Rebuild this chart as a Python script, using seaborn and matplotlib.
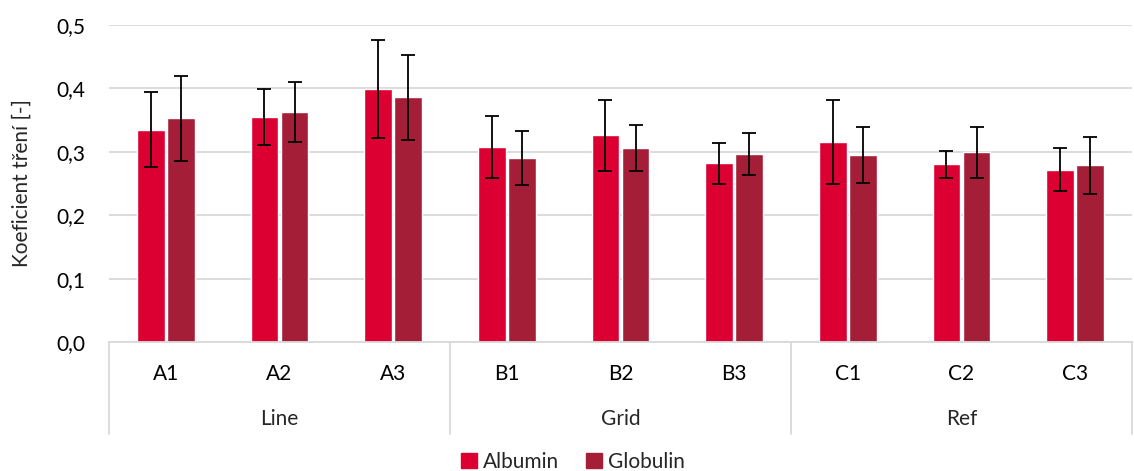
import matplotlib
matplotlib.use("Agg")
import matplotlib.pyplot as plt
import numpy as np
import pandas as pd
import seaborn as sns
from matplotlib.patches import Patch

samples = ["A1", "A2", "A3", "B1", "B2", "B3", "C1", "C2", "C3"]
groups = ["Line", "Grid", "Ref"]
albumin = [0.335, 0.355, 0.399, 0.307, 0.326, 0.282, 0.316, 0.280, 0.272]
albumin_err = [0.059, 0.044, 0.077, 0.049, 0.056, 0.032, 0.066, 0.022, 0.034]
globulin = [0.353, 0.363, 0.386, 0.290, 0.306, 0.296, 0.295, 0.299, 0.279]
globulin_err = [0.067, 0.047, 0.067, 0.043, 0.036, 0.033, 0.044, 0.040, 0.045]

colors = ["#DC0032", "#A51E37"]
fs = 15

df = pd.DataFrame({
    "sample": samples * 2,
    "value": albumin + globulin,
    "protein": ["Albumin"] * len(samples) + ["Globulin"] * len(samples),
})

sns.set_theme(style="white")
plt.rcParams["font.family"] = ["Lato", "DejaVu Sans"]

fig = plt.figure(figsize=(11.34, 4.71), dpi=100)
ax = fig.add_axes([109 / 1134, 1 - 342 / 471, (1132 - 109) / 1134, (342 - 25) / 471])

sns.barplot(data=df, x="sample", y="value", hue="protein", palette=colors,
            width=0.53, gap=0.08, ax=ax, legend=False, saturation=1)

# error bars on top of each bar
for cont, errs in zip(ax.containers, [albumin_err, globulin_err]):
    xs = [b.get_x() + b.get_width() / 2 for b in cont]
    ys = [b.get_height() for b in cont]
    ax.errorbar(xs, ys, yerr=errs, fmt="none", ecolor="black",
                elinewidth=1.3, capsize=5, capthick=1.3)

ax.set_ylim(0, 0.5)
ax.set_xlim(-0.5, len(samples) - 0.5)
ax.set_yticks(np.arange(0, 0.51, 0.1))
ax.set_yticklabels([f"{v:.1f}".replace(".", ",") for v in np.arange(0, 0.51, 0.1)])
ax.yaxis.grid(True, color="#d9d9d9", linewidth=1.3)
ax.set_axisbelow(True)
for s in ["left", "right", "top"]:
    ax.spines[s].set_visible(False)
ax.spines["bottom"].set_color("#d9d9d9")
ax.spines["bottom"].set_linewidth(1.3)
ax.tick_params(axis="both", length=0, labelsize=fs, colors="black")
ax.tick_params(axis="y", pad=17)
ax.tick_params(axis="x", pad=16)
ax.set_xlabel("")
ax.set_ylabel("Koeficient tření [-]", fontsize=fs)
ax.yaxis.set_label_coords(-0.076, 0.5)

# group separators and group labels
trans = ax.get_xaxis_transform()
for x in [-0.5, 2.5, 5.5, 8.5]:
    ax.plot([x, x], [0, -0.29], color="#d9d9d9", linewidth=1.3,
            transform=trans, clip_on=False)
for i, g in enumerate(groups):
    ax.text(i * 3 + 1, -0.243, g, transform=trans, ha="center", va="center",
            fontsize=fs)

handles = [Patch(color=c, label=l) for c, l in zip(colors, ["Albumin", "Globulin"])]
fig.legend(handles=handles, loc="center", bbox_to_anchor=(573 / 1134, 9 / 471),
           ncol=2, frameon=False, fontsize=fs, handlelength=0.75, handleheight=0.75,
           handletextpad=0.3, columnspacing=1.3)

fig.savefig("out.png", dpi=100)
